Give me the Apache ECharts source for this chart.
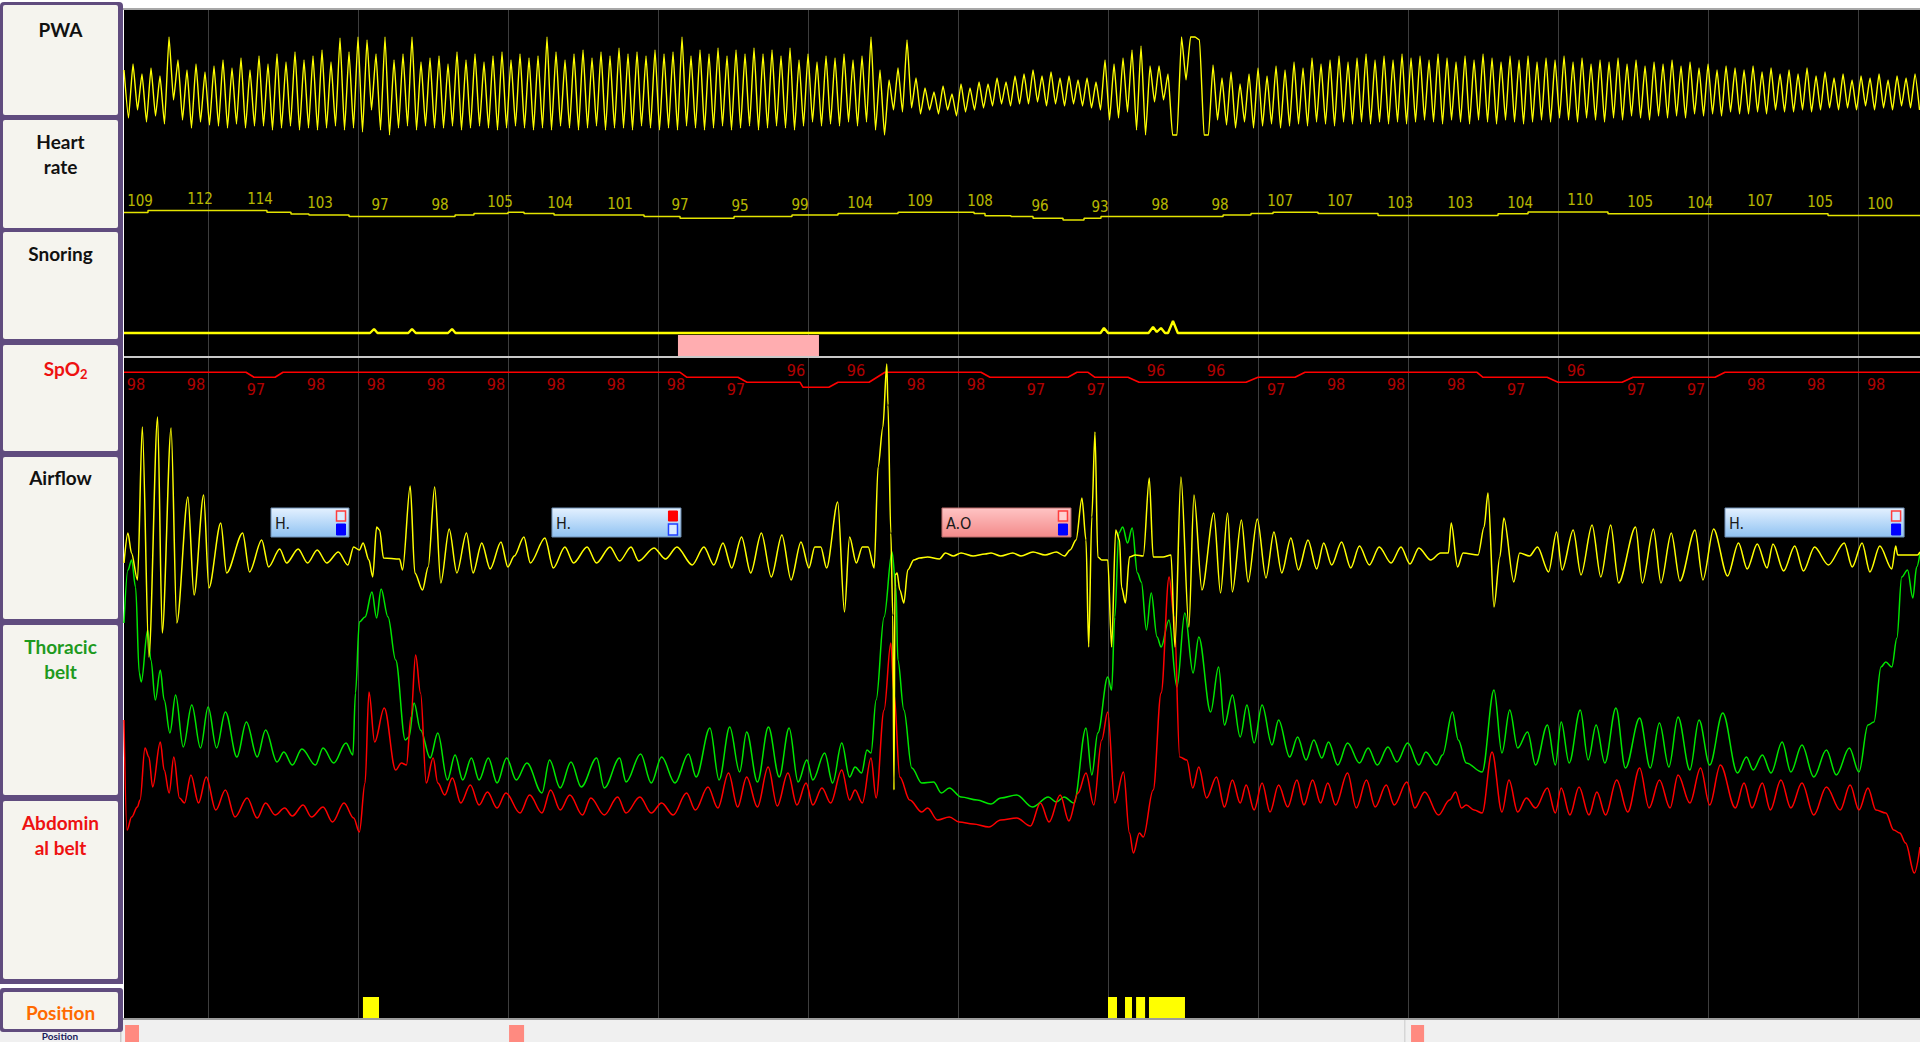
<!DOCTYPE html>
<html><head><meta charset="utf-8">
<script src="https://cdn.jsdelivr.net/npm/echarts@6/dist/echarts.min.js"></script>
<style>html,body{margin:0;padding:0;background:#fff;overflow:hidden}#c{width:1920px;height:1042px}</style>
</head><body><div id="c"></div>
<script>
// ---------- time axis (seconds from left edge of the 2-minute window) ----------
const T_MAX = 119.73;
const GRID_TIMES = [5.6,15.6,25.6,35.6,45.6,55.6,65.6,75.6,85.6,95.6,105.6,115.6];

// ---------- PWA: alternating peak/trough samples every 0.3 s ----------
const PWA_DT = 0.3;
const PWA_VALUES = [
70,22,76,30,66,18,72,24,64,16, 103,40,80,20,70,12,76,18,68,15, 74,14,80,12,72,16,82,12,70,14,
84,14,76,10,86,12,78,14,88,10, 80,12,84,10,90,12,78,14,102,10, 88,12,103,8,100,30,86,10,103,5,
80,12,86,14,103,10,78,14,82,12, 84,12,76,14,88,10,80,12,86,14, 78,12,84,10,88,12,80,14,86,12,
82,10,84,12,103,10,88,14,80,12, 86,10,90,12,82,14,88,10,84,12, 92,12,86,10,88,14,84,12,90,10,
86,12,88,10,103,14,84,12,90,10, 86,12,92,14,84,10,90,12,86,14, 92,10,86,12,90,14,84,12,92,10,
80,14,86,18,78,14,84,16,82,14, 86,18,80,14,84,18,103,10,70,5, 60,30,72,28,100,32,62,26,52,30,
48,26,54,30,46,24,56,28,52,30, 58,32,56,34,62,36,58,34,64,36, 66,36,70,38,64,34,68,36,62,34,
64,36,60,34,62,32,58,30,80,20, 76,22,82,28,90,10,94,5,74,38, 74,40,66,5,5,103,60,103,103,100,
5,5,75,20,62,15,68,12,56,18, 66,12,72,14,64,16,74,12,70,14, 78,16,72,14,82,18,76,16,80,14,
84,18,78,16,82,18,86,16,80,18, 84,16,80,18,86,16,82,18,84,20, 80,18,86,16,82,20,78,18,84,16,
80,20,86,18,82,16,78,20,84,18, 80,16,84,18,78,20,82,18,80,22, 84,20,78,18,82,22,76,20,80,18,
78,22,82,20,76,24,80,22,74,20, 78,24,76,22,80,24,74,22,78,26, 72,24,76,26,70,24,74,28,72,26,
70,26,74,28,68,26,72,30,66,28, 70,28,66,30,72,28,64,30,68,32, 62,30,66,32,60,30,64,34,62,30,
66,32,60,30,64,34,62,32,66,30
];

// ---------- Heart rate ----------
const HR_STEPS = [[0,110],[1.6,115],[9.53,111],[11.13,106.5],[12.33,104],[15.0,100],[22.07,104],[23.33,108],[25.6,111],[26.67,108],[28.67,104],[34.67,100],[37.07,96],[40.67,100],[44.53,104],[47.6,108],[51.6,111],[56.67,108],[57.4,102],[59.13,100],[60.6,96],[62.6,91.5],[64.0,96],[65.13,100],[73.27,104],[75.13,108],[76.6,111],[79.6,108],[83.6,103],[91.6,107],[93.6,111.5],[98.93,107],[113.6,103],[119.73,103]];
const HR_LABELS = [109,112,114,103,97,98,105,104,101,97,95,99,104,109,108,96,93,98,98,107,107,103,103,104,110,105,104,107,105,100];
const HR_LABEL_T0 = 1.07;
const LABEL_STEP = 4;

// ---------- Snoring ----------
const SNORING = [[0,0],[16.4,0],[16.67,4],[16.9,0],[18.95,0],[19.2,4],[19.45,0],[21.6,0],[21.87,4],[22.1,0],[65.1,0],[65.33,5],[65.6,0],[68.3,0],[68.6,6],[68.85,1],[69.13,5],[69.4,0],[69.6,0],[69.93,12],[70.25,0],[119.73,0]];
const DESAT_MARK = [36.93, 46.33];

// ---------- SpO2 ----------
const SPO2_LINE = [[0,98],[8.13,98],[8.67,97],[10.07,97],[10.6,98],[37.07,98],[37.53,97],[40.93,97],[41.53,96],[45.07,96],[45.27,95],[46.99,95],[47.6,96],[49.67,96],[50.73,98],[57.13,98],[57.73,97],[62.93,97],[63.53,98],[64.27,98],[64.73,97],[66.93,97],[67.67,96],[74.8,96],[75.6,97],[78.07,97],[78.73,98],[90.2,98],[90.6,97],[94.87,97],[95.6,96],[99.87,96],[100.6,97],[106.07,97],[106.73,98],[119.73,98]];
const SPO2_LABELS = [98,98,97,98,98,98,98,98,98,98,97,96,96,98,98,97,97,96,96,97,98,98,98,97,96,97,97,98,98,98];
const SPO2_LABEL_T0 = 0.8;

// ---------- Airflow ----------
const AIRFLOW = [[0,-8],[0.26,22],[0.5,2],[0.9,-25],[1.22,128],[1.66,-102],[2.24,138],[2.55,-78],[3.14,127],[3.52,-68],[4.26,58],[4.67,-40],[5.31,60],[5.66,-33],[6.45,32],[6.84,-18],[7.91,22],[8.37,-17],[9.18,15],[9.64,-12],[10.38,6],[10.84,-8],[11.61,6],[12.24,-8],[12.88,5],[13.52,-8],[14.29,3],[14.92,-10],[15.31,8],[15.69,5],[15.94,12],[16.33,-5],[16.58,-22],[16.84,28],[17.04,25],[17.3,-3],[18.37,-4],[18.57,-15],[19.08,69],[19.39,-18],[19.9,-35],[20.28,-12],[20.71,68],[21.12,-28],[21.68,26],[22.19,-18],[22.83,22],[23.27,-18],[23.85,12],[24.41,-14],[25.13,13],[25.59,-12],[26.02,-1],[26.66,18],[27.09,-8],[28.06,17],[28.62,-13],[29.39,8],[29.97,-8],[30.87,8],[31.5,-8],[32.4,8],[33.04,-6],[33.8,8],[34.31,-6],[35.33,7],[36.1,-4],[36.86,8],[37.88,-10],
[38.66,8],[39.32,-10],[39.93,12],[40.51,-13],[41.17,18],[41.78,-18],[42.49,22],[43.15,-22],[43.86,20],[44.47,-25],[45.13,13],[45.66,-13],[46.05,8],[46.45,8],[46.84,-13],[47.58,53],[48.03,-57],[48.37,18],[48.82,-8],[49.22,8],[49.61,8],[50.01,-13],[50.27,88],[50.59,128],[50.85,191],[50.93,150],[51.12,22],[51.25,-60],[51.33,-235],[51.4,-20],[51.54,-18],[51.72,-35],[51.99,-48],[52.25,-15],[52.65,-5],[53.04,-3],[53.57,-2],[54.36,-4],[54.76,2],[55.29,-1],[55.8,2],[56.6,-1],[57.4,1],[57.8,2],[58.45,-1],[59.25,2],[59.8,-1],[60.6,3],[61.4,0],[62.15,3],[62.7,-1],[63.07,5],[63.47,15],[63.86,57],[64.13,15],[64.31,-92],[64.52,38],[64.73,123],[64.92,-2],[65.18,-5],[65.58,-5],[65.84,-92],[66.11,25],[66.37,15],[66.5,-32],[66.76,-48],[67.03,-2],[67.42,0],[67.95,-1],[68.35,77],[68.61,-2],[69.27,-2],[69.8,0],[70.06,-92],[70.46,78],[70.99,-72],[71.33,60],[71.86,-35],[72.65,42],[73.1,-38],[73.57,42],[73.89,-37],[74.49,35],[74.94,-27],[75.55,36],[76.13,-23],[76.66,23],[77.18,-18],[77.79,17],[78.29,-15],
[78.93,15],[79.51,-14],[79.98,12],[80.51,-10],[81.17,13],[81.78,-13],[82.36,9],[83.02,-10],[83.68,8],[84.47,-8],[85.13,8],[85.73,-9],[86.32,7],[87.11,-5],[87.77,2],[88.29,2],[88.48,32],[88.9,-12],[89.27,2],[90.27,0],[90.67,28],[90.93,62],[91.33,-52],[91.72,-2],[91.99,37],[92.65,-27],[93.04,2],[93.7,-1],[94.23,8],[94.97,-17],[95.5,23],[95.87,-15],[96.61,25],[97.13,-20],[97.87,30],[98.45,-22],[99.11,30],[99.64,-28],[100.77,28],[101.22,-28],[101.96,26],[102.46,-28],[103.15,22],[103.73,-26],[104.73,25],[105.26,-25],[105.97,26],[106.9,-21],[107.63,12],[108.21,-14],[108.88,11],[109.53,-13],[109.93,11],[110.64,-16],[111.38,9],[111.96,-16],[112.7,8],[113.62,-10],[114.68,12],[115.21,-12],[115.87,12],[116.39,-17],[117.05,9],[117.85,-14],[118.11,9],[118.24,0],[119.56,0],[119.73,3]];

// ---------- Thoracic belt ----------
const THORACIC = [[0,197],[0.26,250],[0.51,260],[0.77,233],[1.02,147],[1.15,138],[1.58,190],[1.79,160],[2.09,120],[2.42,150],[2.68,120],[3.06,87],[3.44,125],[3.95,73],[4.52,115],[5.1,72],[5.61,113],[6.17,72],[6.76,108],[7.53,63],[8.16,98],[8.88,63],[9.44,90],[10.2,58],[10.66,68],[11.22,55],[11.86,71],[12.76,55],[13.27,72],[13.98,57],[14.8,77],[15.26,65],[15.43,127],[15.69,198],[16.07,203],[16.53,228],[16.84,202],[17.14,231],[17.6,203],[18.11,160],[18.75,80],[19.0,83],[19.34,117],[19.77,90],[20.41,62],[20.92,87],[21.56,40],[22.07,65],[22.58,40],[23.16,62],[23.67,40],[24.29,62],[24.87,37],[25.51,62],[26.15,40],[26.86,57],[27.86,27],[28.37,60],[29.08,32],[29.8,58],[30.48,33],[31.51,62],[32.02,32],[33.04,62],[33.47,38],[34.44,66],[35.15,37],[35.84,63],[36.73,37],[37.63,66],[38.14,43],
[39.06,92],[39.67,40],[40.38,93],[41.04,48],[41.51,88],[42.23,38],[42.96,93],[43.68,43],[44.34,92],[44.94,38],[45.52,60],[45.92,40],[46.71,67],[47.24,37],[47.85,77],[48.37,43],[48.74,53],[49.17,47],[49.53,70],[49.8,67],[50.14,120],[50.67,203],[51.2,268],[51.46,233],[51.59,160],[51.99,110],[52.52,52],[53.18,37],[53.97,38],[54.49,27],[55.02,32],[55.81,23],[56.87,20],[57.79,16],[58.45,22],[59.51,25],[60.56,13],[61.62,23],[62.15,18],[62.67,23],[63.33,17],[64.13,92],[64.52,45],[64.92,87],[65.58,143],[65.84,130],[66.05,203],[66.32,287],[66.58,293],[66.9,277],[67.21,292],[67.56,247],[67.82,238],[68.16,190],[68.48,227],[68.87,183],[69.14,173],[69.66,200],[70.19,133],[70.72,207],[71.27,147],[71.65,183],[72.44,108],[72.97,153],[73.36,95],[73.89,125],[74.41,83],[74.86,115],[75.34,77],[75.87,115],[76.53,75],[76.97,100],[77.71,63],[78.24,83],
[78.8,60],[79.32,80],[79.85,62],[80.3,78],[80.91,55],[81.57,77],[82.36,57],[82.94,72],[83.55,55],[84.26,73],[84.86,58],[85.58,77],[86.32,55],[86.79,68],[87.5,55],[87.9,65],[88.56,108],[88.95,80],[89.48,57],[90.54,48],[91.33,130],[91.86,67],[92.38,110],[92.91,72],[93.57,88],[94.1,55],[94.89,95],[95.42,55],[95.81,98],[96.34,57],[97.08,110],[97.61,60],[98.14,95],[98.72,57],[99.46,112],[100.09,52],[101.04,102],[101.75,52],[102.36,97],[102.99,53],[103.6,103],[104.39,50],[105.0,100],[105.71,55],[106.58,107],[107.56,47],[108.16,63],[108.61,50],[109.22,65],[109.8,47],[110.54,78],[111.12,48],[111.86,75],[112.65,43],[113.49,70],[114.15,45],[115.02,72],[115.66,48],[116.26,95],[116.66,98],[117.13,153],[117.45,158],[117.85,153],[118.19,182],[118.51,243],[118.9,250],[119.25,222],[119.51,253],[119.73,267]];

// ---------- Abdominal belt ----------
const ABDOMINAL = [[0,160],[0.2,50],[0.51,63],[0.89,73],[1.07,80],[1.4,132],[1.66,123],[1.91,93],[2.42,138],[2.68,110],[3.01,87],[3.32,123],[3.7,82],[4.03,77],[4.46,105],[4.97,77],[5.48,103],[6.12,70],[6.76,90],[7.4,63],[8.21,82],[8.88,62],[9.44,77],[10.08,65],[10.71,72],[11.22,64],[11.94,75],[12.5,63],[13.27,73],[13.9,58],[14.67,77],[15.31,62],[15.69,48],[16.07,97],[16.33,188],[16.71,138],[17.35,172],[18.11,110],[18.49,117],[18.83,115],[19.13,163],[19.44,225],[19.77,187],[20.15,97],[20.61,122],[20.92,97],[21.38,85],[21.89,102],[22.45,77],[23.09,95],[23.67,75],[24.23,88],[24.87,72],[25.46,87],[26.4,67],[27.04,85],[27.86,67],[28.44,90],[29.08,70],[29.72,85],[30.56,65],[31.12,82],[32.02,65],[32.91,83],[33.47,67],[34.39,83],[35.15,67],[35.84,77],[36.61,65],[37.5,87],[38.09,70],
[38.93,93],[39.59,72],[40.3,107],[40.91,73],[41.51,103],[42.23,73],[42.94,113],[43.55,74],[44.26,107],[44.86,75],[45.47,97],[45.92,75],[46.53,92],[47.11,77],[47.85,110],[48.37,80],[48.74,90],[49.22,77],[49.8,122],[50.14,82],[50.67,170],[51.12,237],[51.33,187],[51.72,103],[52.38,80],[53.18,68],[53.57,72],[54.23,60],[55.02,63],[55.68,58],[56.61,56],[57.66,53],[58.45,60],[59.51,62],[60.43,54],[61.09,77],[61.67,58],[62.41,85],[62.99,59],[63.6,87],[64.13,107],[64.65,75],[65.18,140],[65.58,168],[66.05,77],[66.63,108],[67.03,47],[67.29,27],[67.69,47],[67.95,43],[68.61,90],[69.14,187],[69.67,303],[70.01,263],[70.38,123],[70.85,120],[71.25,92],[71.65,113],[72.17,82],[72.83,103],[73.36,73],[73.89,100],[74.41,77],[74.81,95],[75.34,70],[75.87,97],[76.4,68],[76.97,95],[77.58,73],[78.19,100],
[78.66,75],[79.24,100],[79.77,77],[80.25,97],[80.77,75],[81.57,107],[82.15,72],[82.83,100],[83.41,73],[84.15,95],[84.68,75],[85.52,98],[86.05,72],[86.71,88],[87.63,65],[88.37,80],[88.77,88],[89.17,72],[89.48,75],[90.01,70],[90.54,67],[91.2,128],[91.86,68],[92.33,100],[92.91,68],[93.49,82],[94.1,72],[94.89,92],[95.42,67],[95.81,92],[96.39,65],[97.0,93],[97.66,65],[98.19,88],[98.77,65],[99.51,100],[100.25,68],[101.04,112],[101.67,72],[102.36,100],[103.07,72],[103.6,105],[104.39,77],[105.1,112],[105.71,75],[106.42,115],[107.42,72],[108.0,97],[108.53,72],[109.22,97],[109.75,70],[110.46,100],[111.12,72],[111.86,97],[112.65,65],[113.49,93],[114.41,70],[115.07,95],[115.66,70],[116.26,92],[116.79,70],[117.45,67],[117.98,50],[118.38,47],[118.77,37],[119.35,7],[119.73,33]];

// ---------- Scored events (airflow) ----------
const EVENT_START = [9.8, 28.53, 54.53, 106.73];
const EVENT_END   = [15.0, 37.13, 63.13, 118.67];
const EVENT_TEXT  = ['H.', 'H.', 'A.O', 'H.'];
const EVENT_TOP_FILLED    = [false, true, false, false];
const EVENT_BOTTOM_FILLED = [true, false, true, true];

// ---------- Position episodes / overview markers ----------
const POSITION_EPISODES = [[15.93,17.0],[65.6,66.2],[66.73,67.2],[67.47,68.07],[68.33,70.73]];
const OVERVIEW_MARKS = [[0.07,1.0],[25.67,26.67],[85.8,86.67]];

// ---------- Channel labels ----------
const CHANNELS = ['PWA','Heart rate','Snoring','SpO2','Airflow','Thoracic belt','Abdominal belt','Position'];

// ================= build =================
const chart = echarts.init(document.getElementById('c'), null, {renderer:'svg', width:1920, height:1042});
const NARROW = "'Liberation Sans Narrow','DejaVu Sans Condensed','Arial Narrow',sans-serif";
const LEFT = 124;
const grids = [
  {top:10, height:1008},      // 0 frame
  {top:0, height:140},        // 1 PWA
  {top:180.6, height:60},     // 2 HR
  {top:300, height:60},       // 3 snoring
  {top:362.3, height:100},    // 4 SpO2
  {top:340, height:500},      // 5 airflow
  {top:500, height:320},      // 6 thoracic
  {top:500, height:380},      // 7 abdominal
  {top:997, height:21},       // 8 position
  {top:1025, height:17}       // 9 overview strip
].map((g,i)=>Object.assign({left:LEFT, right:0, show:i===0, backgroundColor:'#000', borderWidth:0, containLabel:false}, g));
const yRanges = [[0,1],[0,140],[40,190],[-27,33],[80,100],[-285,215],[0,320],[0,380],[0,1],[0,1]];
const xAxes = grids.map((g,i)=>({type:'value', gridIndex:i, min:0, max:T_MAX, show:false}));
const yAxes = yRanges.map((r,i)=>({type:'value', gridIndex:i, min:r[0], max:r[1], show:false}));

function lineSeries(idx, data, color, width, extra){
  return Object.assign({type:'line', xAxisIndex:idx, yAxisIndex:idx, data:data, showSymbol:false, symbol:'none',
    silent:true, clip:false, lineStyle:{color:color, width:width}, z:5}, extra||{});
}

// event boxes in airflow channel
const EVT_V_TOP = 47, EVT_V_BOTTOM = 18;
function renderEvent(params, api){
  const i = params.dataIndex;
  const p0 = api.coord([EVENT_START[i], EVT_V_TOP]);
  const p1 = api.coord([EVENT_END[i], EVT_V_BOTTOM]);
  const x = p0[0], y = p0[1], w = p1[0]-p0[0], h = p1[1]-p0[1];
  const apnea = EVENT_TEXT[i] !== 'H.';
  const grad = apnea
    ? new echarts.graphic.LinearGradient(0,0,0,1,[{offset:0,color:'#ffc4c4'},{offset:1,color:'#f38a8a'}])
    : new echarts.graphic.LinearGradient(0,0,0,1,[{offset:0,color:'#e4f1ff'},{offset:1,color:'#8fc2f2'}]);
  const sx = x + w - 12.5;
  const lightFill = apnea ? '#ffd0d0' : '#d9ebff';
  return {type:'group', children:[
    {type:'rect', shape:{x:x, y:y, width:w, height:h}, style:{fill:grad, stroke: apnea ? '#b86a6a' : '#6f8fb5', lineWidth:1}},
    {type:'text', style:{text:EVENT_TEXT[i], x:x+4, y:y+h/2+1, fill:'#1a1a1a', font:'16px '+NARROW, verticalAlign:'middle', textVerticalAlign:'middle'}},
    {type:'rect', shape:{x:sx, y:y+3, width:9, height:10},
      style: EVENT_TOP_FILLED[i] ? {fill:'#ff0000', stroke:'#ff0000', lineWidth:1} : {fill:lightFill, stroke:'#ff3c3c', lineWidth:1.5}},
    {type:'rect', shape:{x:sx, y:y+16, width:9, height:11},
      style: EVENT_BOTTOM_FILLED[i] ? {fill:'#0000ff', stroke:'#0000ff', lineWidth:1} : {fill:lightFill, stroke:'#2040ff', lineWidth:1.5}}
  ]};
}
function renderSpan(color, vTop, vBottom){
  return function(params, api){
    const a = api.coord([api.value(0), vTop]);
    const b = api.coord([api.value(1), vBottom]);
    return {type:'rect', shape:{x:a[0], y:a[1], width:b[0]-a[0], height:b[1]-a[1]}, style:{fill:color}};
  };
}
const HIDDEN = {color:'rgba(0,0,0,0)', borderWidth:0};

const series = [
  // vertical grid lines (every 10 s)
  {type:'line', xAxisIndex:0, yAxisIndex:0, data:[[0,0]], symbol:'none', lineStyle:{opacity:0}, silent:true, z:1,
    markLine:{silent:true, symbol:'none', animation:false, z:1, label:{show:false},
      lineStyle:{color:'#3d3d3d', width:1, type:'solid'}, data:GRID_TIMES.map(t=>({xAxis:t}))}},
  lineSeries(1, PWA_VALUES.map((v,i)=>[i*PWA_DT, v]), '#ffff00', 1.4, {smooth:0.15, smoothMonotone:'x'}),
  lineSeries(2, HR_STEPS, '#e4e400', 1.5, {step:'end'}),
  {type:'scatter', xAxisIndex:2, yAxisIndex:2, symbolSize:2, itemStyle:HIDDEN, silent:true, z:6,
    data:HR_LABELS.map((v,i)=>[HR_LABEL_T0 + i*LABEL_STEP, v]),
    label:{show:true, position:'inside', offset:[0,-12.5], formatter:p=>String(p.value[1]), color:'#e8e800', fontSize:15, fontFamily:NARROW}},
  lineSeries(3, SNORING, '#ffff00', 2.4, {
    markArea:{silent:true, z:6, itemStyle:{color:'#ffadb0'}, data:[[{coord:[DESAT_MARK[0],-2]},{coord:[DESAT_MARK[1],-23]}]]},
    markLine:{silent:true, symbol:'none', z:6, label:{show:false}, lineStyle:{color:'#c8c8c8', width:2, type:'solid'}, data:[{yAxis:-24}]}}),
  lineSeries(4, SPO2_LINE, '#ff0000', 1.6),
  {type:'scatter', xAxisIndex:4, yAxisIndex:4, symbolSize:2, itemStyle:HIDDEN, silent:true, z:6,
    data:SPO2_LABELS.map((v,i)=>({value:[SPO2_LABEL_T0 + i*LABEL_STEP, v], label:{offset:[0, v<=96 ? -12 : 12]}})),
    label:{show:true, position:'inside', formatter:p=>String(p.value[1]), color:'#e00000', fontSize:16, fontFamily:NARROW}},
  lineSeries(6, THORACIC, '#00e600', 1.5, {z:5, smooth:0.35, smoothMonotone:'x'}),
  lineSeries(7, ABDOMINAL, '#ff0000', 1.5, {z:6, smooth:0.35, smoothMonotone:'x'}),
  lineSeries(5, AIRFLOW, '#ffff00', 1.5, {z:7, smooth:0.3, smoothMonotone:'x'}),
  {type:'custom', xAxisIndex:5, yAxisIndex:5, silent:true, z:9, data:EVENT_START.map((s,i)=>[s, EVENT_END[i]]), renderItem:renderEvent},
  {type:'custom', xAxisIndex:8, yAxisIndex:8, silent:true, z:8, data:POSITION_EPISODES, renderItem:renderSpan('#ffff00',1,0)},
  {type:'custom', xAxisIndex:9, yAxisIndex:9, silent:true, z:8, data:OVERVIEW_MARKS, renderItem:renderSpan('#ff8a80',1,-0.2)}
];

// ---------- left label panel & frame decorations ----------
const PURPLE = '#604c7e', BOX = '#f5f4ee';
const boxes = [[5,115],[120,228],[232,339],[345,451],[457,619],[625,795],[801,979],[992,1029]];
const g = [];
g.push({type:'rect', shape:{x:0,y:1019,width:1920,height:23}, style:{fill:'#f0f0f0'}, z:0});
g.push({type:'rect', shape:{x:122,y:1018,width:1798,height:2}, style:{fill:'#9c9c9c'}, z:0});
g.push({type:'rect', shape:{x:1404,y:1020,width:1.5,height:22}, style:{fill:'#d6d6d6'}, z:0});
g.push({type:'rect', shape:{x:120,y:1020,width:1.5,height:22}, style:{fill:'#c8c8c8'}, z:0});
g.push({type:'rect', shape:{x:123,y:0,width:1797,height:8}, style:{fill:'#ffffff'}, z:0});
g.push({type:'rect', shape:{x:123,y:8,width:1797,height:2}, style:{fill:'#a8a8a8'}, z:0});
g.push({type:'text', x:60, y:1041, z:0, style:{text:'Position', fill:'#1c1c5c', font:'bold 10px Lato, sans-serif', align:'center', verticalAlign:'bottom', textAlign:'center', textVerticalAlign:'bottom'}});
g.push({type:'rect', shape:{x:0,y:2,width:123,height:982,r:[4,4,0,0]}, style:{fill:PURPLE}, z:1});
g.push({type:'rect', shape:{x:0,y:988,width:123,height:44,r:3}, style:{fill:PURPLE}, z:1});
boxes.forEach(b=>g.push({type:'rect', shape:{x:3,y:b[0],width:115,height:b[1]-b[0],r:2}, style:{fill:BOX}, z:2}));
function label(text, y, color, size){
  g.push({type:'text', x:60.5, y:y, z:3, style:{text:text, fill:color, font:'bold '+(size||19)+'px Lato, "Open Sans", sans-serif',
    align:'center', verticalAlign:'middle', textAlign:'center', textVerticalAlign:'middle'}});
}
label(CHANNELS[0], 29, '#111111');
label('Heart', 141.5, '#111111'); label('rate', 166.5, '#111111');
label(CHANNELS[2], 253, '#111111');
g.push({type:'text', x:80, y:368, z:3, style:{text:'SpO', fill:'#ee1111', font:'bold 19px Lato, sans-serif', align:'right', verticalAlign:'middle', textAlign:'right', textVerticalAlign:'middle'}});
g.push({type:'text', x:80, y:374, z:3, style:{text:'2', fill:'#ee1111', font:'bold 13px Lato, sans-serif', align:'left', verticalAlign:'middle', textAlign:'left', textVerticalAlign:'middle'}});
label(CHANNELS[4], 477, '#111111');
label('Thoracic', 646, '#1e9a1e'); label('belt', 671, '#1e9a1e');
label('Abdomin', 822, '#ee1111'); label('al belt', 847, '#ee1111');
label(CHANNELS[7], 1012, '#ff6a00');

chart.setOption({
  backgroundColor:'#ffffff',
  animation:false,
  grid:grids, xAxis:xAxes, yAxis:yAxes,
  graphic:{elements:g},
  series:series
});
</script></body></html>
